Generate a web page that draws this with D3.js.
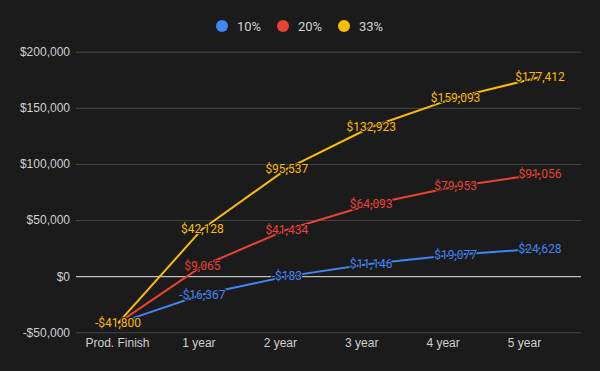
<!DOCTYPE html>
<html>
<head>
<meta charset="utf-8">
<script src="https://cdn.jsdelivr.net/npm/d3@7"></script>
<style>
  body { margin: 0; background: #1b1b1b; }
  svg { display: block; }
</style>
</head>
<body>
<div id="chart"></div>
<script>
// chart data
const categories = ["Prod. Finish", "1 year", "2 year", "3 year", "4 year", "5 year"];
const seriesNames = ["10%", "20%", "33%"];
const rate10 = [-41800, -16367, -183, 11146, 19077, 24628];
const rate20 = [-41800, 9065, 41434, 64093, 79953, 91056];
const rate33 = [-41800, 42128, 95537, 132923, 159093, 177412];
const yTicks = [-50000, 0, 50000, 100000, 150000, 200000];

const colors = ["#4285f4", "#ea4335", "#fbbc04"];
const series = [rate10, rate20, rate33];

const W = 600, H = 371;
const svg = d3.select("#chart").append("svg")
    .attr("width", W).attr("height", H)
    .style("background", "#1b1b1b");

// scales
const y = d3.scaleLinear().domain([-50000, 200000]).range([332.3, 51.7]);
const x = d3.scalePoint().domain(categories).range([118, 540]);
// tick labels sit a little left of the data points in the reference
const xLab = d3.scalePoint().domain(categories).range([117, 524]);

const fmt = v => (v < 0 ? "-$" : "$") + d3.format(",")(Math.abs(v));

// y axis + grid
const yAxis = d3.axisLeft(y).tickValues(yTicks).tickFormat(fmt).tickSize(-505).tickPadding(6);
const gy = svg.append("g").attr("transform", "translate(76,0)").call(yAxis);
gy.select(".domain").remove();
gy.selectAll(".tick line")
    .attr("stroke", d => d === 0 ? "#e6e6e6" : "#474747")
    .attr("stroke-width", 1);
gy.selectAll(".tick text")
    .attr("fill", "#d0d0d0")
    .style("font-family", "'Liberation Sans', Arial, sans-serif")
    .style("font-size", "12px");

// x axis labels
const xAxis = d3.axisBottom(xLab).tickSize(0).tickPadding(0);
const gx = svg.append("g").attr("transform", "translate(0,338)").call(xAxis);
gx.select(".domain").remove();
gx.selectAll(".tick text")
    .attr("fill", "#d0d0d0")
    .style("font-family", "'Liberation Sans', Arial, sans-serif")
    .style("font-size", "12px");

// lines
const line = d3.line()
    .x((d, i) => x(categories[i]))
    .y(d => y(d));

svg.selectAll(".line")
    .data(series)
    .enter()
    .append("path")
    .attr("class", "line")
    .attr("d", line)
    .attr("fill", "none")
    .attr("stroke", (d, i) => colors[i])
    .attr("stroke-width", 2);

// value labels (drawn over the lines with a background halo)
series.forEach((s, si) => {
    svg.append("g").selectAll("text")
        .data(s)
        .enter()
        .append("text")
        .attr("x", (d, i) => x(categories[i]))
        .attr("y", d => y(d))
        .attr("text-anchor", "middle")
        .attr("dominant-baseline", "central")
        .attr("fill", colors[si])
        .attr("stroke", "#1b1b1b")
        .attr("stroke-width", 2)
        .attr("paint-order", "stroke")
        .style("font-family", "Roboto, sans-serif")
        .style("font-size", "12px")
        .text(d => fmt(d));
});

// legend
const legendX = [222, 283, 344];
const legend = svg.append("g").selectAll("g")
    .data(seriesNames)
    .enter()
    .append("g")
    .attr("transform", (d, i) => `translate(${legendX[i]},26)`);
legend.append("circle")
    .attr("r", 6)
    .attr("fill", (d, i) => colors[i]);
legend.append("text")
    .attr("x", 15)
    .attr("dominant-baseline", "central")
    .attr("fill", "#d0d0d0")
    .style("font-family", "Roboto, sans-serif")
    .style("font-size", "13px")
    .text(d => d);
</script>
</body>
</html>
